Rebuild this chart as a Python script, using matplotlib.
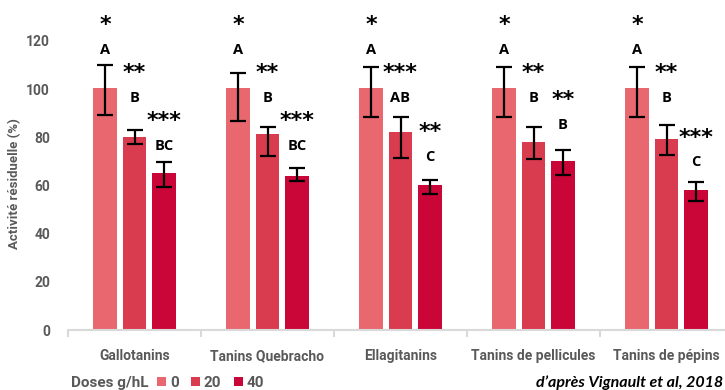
import matplotlib
matplotlib.use("Agg")
import matplotlib.pyplot as plt
from matplotlib.patches import Patch
import numpy as np

# tannin types and residual activity (%) per dose
categories = ["Gallotanins", "Tanins Quebracho", "Ellagitanins",
              "Tanins de pellicules", "Tanins de pépins"]
doses = ["0", "20", "40"]

act_0 = [100.4, 100.4, 100.4, 100.4, 100.4]
act_20 = [80.1, 81.4, 82.2, 78.1, 79.3]
act_40 = [65.2, 64.0, 60.2, 70.2, 58.1]

# error bars (lower, upper)
err_0 = ([11.1, 13.7, 11.9, 11.9, 11.9], [9.6, 6.5, 8.8, 8.8, 8.8])
err_20 = ([2.9, 9.0, 10.6, 7.0, 6.6], [2.9, 2.8, 6.4, 6.2, 5.8])
err_40 = ([5.8, 2.1, 3.8, 5.8, 4.4], [4.4, 3.4, 2.1, 4.4, 3.5])

# statistical groups and significance
letters_0 = ["A", "A", "A", "A", "A"]
letters_20 = ["B", "B", "AB", "B", "B"]
letters_40 = ["BC", "BC", "C", "B", "C"]
stars_0 = ["*", "*", "*", "*", "*"]
stars_20 = ["**", "**", "***", "**", "**"]
stars_40 = ["***", "***", "**", "**", "***"]

colors = ["#E9686F", "#DA3C4F", "#CA0538"]
grey = "#595959"
label_font = "Roboto"

# height of the letter labels above each bar
letter_y = [[116.3] * 5, [96.3] * 5, [76.4, 76.4, 72.0, 85.1, 69.6]]

fig = plt.figure(figsize=(7.25, 3.9), dpi=100)
ax = fig.add_axes([68 / 725, 60 / 390, 665 / 725, 289 / 390])

x = np.arange(len(categories))
width = 0.18
step = 0.222

series = [act_0, act_20, act_40]
errs = [err_0, err_20, err_40]
letters = [letters_0, letters_20, letters_40]
stars = [stars_0, stars_20, stars_40]

handles = []
for i, (vals, err, col) in enumerate(zip(series, errs, colors)):
    pos = x + (i - 1) * step
    ax.bar(pos, vals, width, color=col, zorder=2)
    ax.errorbar(pos, vals, yerr=[err[0], err[1]], fmt="none", ecolor="black",
                elinewidth=1.6, capsize=5.5, capthick=1.6, zorder=3)
    handles.append(Patch(facecolor=col, label=doses[i]))
    for j, p in enumerate(pos):
        ly = letter_y[i][j]
        ax.text(p, ly, letters[i][j], ha="center", va="center", clip_on=False,
                fontsize=10.5, fontweight="bold", family="Open Sans", color="black")
        ax.annotate(stars[i][j], xy=(p, ly + 12.2), xytext=(0, -7.7),
                    textcoords="offset points", ha="center", va="baseline",
                    annotation_clip=False,
                    fontsize=16, fontweight="bold", color="black")

ax.set_ylim(0, 120)
ax.set_xlim(-0.5, len(categories) - 0.5)
ax.set_yticks(range(0, 121, 20))
ax.set_xticks(x)
ax.set_xticklabels(categories)
ax.tick_params(axis="x", length=0, pad=14)
ax.tick_params(axis="y", length=0, pad=13)
for lab in ax.get_xticklabels() + ax.get_yticklabels():
    lab.set_family(label_font)
    lab.set_fontweight("bold")
    lab.set_color(grey)
    lab.set_fontsize(10)

# category separators below the baseline
ax.set_xticks(np.arange(-0.5, len(categories)), minor=True)
ax.tick_params(axis="x", which="minor", length=5, width=1.5, color="#D9D9D9")

for s in ["top", "right", "left"]:
    ax.spines[s].set_visible(False)
ax.spines["bottom"].set_color("#D9D9D9")
ax.spines["bottom"].set_linewidth(1.5)

fig.text(15 / 725, 1 - 184 / 390, "Activité résiduelle (%)", rotation=90,
         ha="center", va="center", fontsize=9.5, fontweight="bold",
         family=label_font, color=grey)

fig.text(71 / 725, 1 - 383 / 390, "Doses g/hL", ha="left", va="center",
         fontsize=11, fontweight="bold", family=label_font, color=grey)
leg = fig.legend(handles=handles, ncol=3, loc="center left",
                 bbox_to_anchor=(157 / 725, 1 - 383 / 390), frameon=False,
                 handlelength=0.6, handleheight=0.6, handletextpad=0.25,
                 columnspacing=0.8, borderaxespad=0, borderpad=0,
                 prop={"family": label_font, "weight": "bold", "size": 11})
for t in leg.get_texts():
    t.set_color(grey)

fig.text(723 / 725, 1 - 383 / 390, "d’après Vignault et al, 2018",
         ha="right", va="center", fontsize=11.5, fontweight="bold",
         style="italic", family="Lato", color="black")

fig.savefig("out.png", dpi=100)
